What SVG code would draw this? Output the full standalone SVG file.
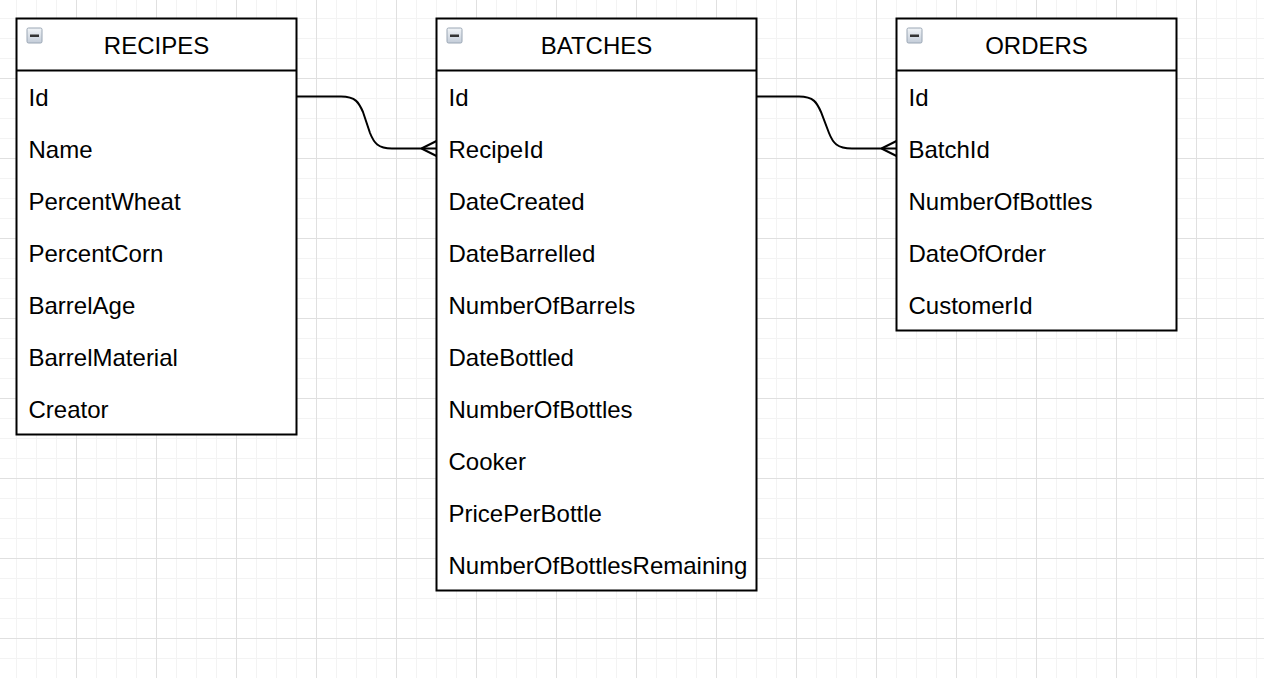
<svg xmlns="http://www.w3.org/2000/svg" width="1264" height="678" viewBox="0 0 1264 678">
  <defs>
    <pattern id="grid" x="0" y="0" width="80" height="80" patternUnits="userSpaceOnUse">
      <path d="M16.5 0V80M36.5 0V80M56.5 0V80M0 18.5H80M0 38.5H80M0 58.5H80" stroke="#f3f3f3" stroke-width="1" fill="none"/>
      <path d="M76.5 0V80M0 78.5H80" stroke="#e0e0e0" stroke-width="1" fill="none"/>
    </pattern>
    <linearGradient id="iconGrad" x1="0" y1="0" x2="0" y2="1">
      <stop offset="0" stop-color="#f2f5f8"/>
      <stop offset="1" stop-color="#c3ccd8"/>
    </linearGradient>
    <g id="minus">
      <rect x="0.5" y="0.5" width="15" height="15" rx="1.5" fill="url(#iconGrad)" stroke="#9aa6b4" stroke-width="1"/>
      <rect x="3.5" y="7" width="9" height="2.5" fill="#333"/>
    </g>
  </defs>
  <style>
    .box { fill: #ffffff; stroke: #000000; stroke-width: 2; }
    .sep { stroke: #000000; stroke-width: 2; }
    .title { font-family: "Liberation Sans", Arial, Helvetica, sans-serif; font-size: 24px; fill: #000; text-anchor: middle; }
    .row { font-family: "Liberation Sans", Arial, Helvetica, sans-serif; font-size: 24px; fill: #000; }
    .edge { fill: none; stroke: #000000; stroke-width: 2; }
  </style>
  <rect x="0" y="0" width="1264" height="678" fill="#ffffff"/>
  <rect x="0" y="0" width="1264" height="678" fill="url(#grid)"/>

  <g id="connectors">
    <path class="edge" d="M296.5 96.5H341C356 96.5 359 103 363 112L370 133C374 143 378 148.5 392 148.5H436.5"/>
    <path class="edge" d="M421.5 148.5L436.5 141M421.5 148.5L436.5 156"/>
    <path class="edge" d="M756.5 96.5H799C814 96.5 817 103 821 112L829 133C833 143 837 148.5 852 148.5H896.5"/>
    <path class="edge" d="M881.5 148.5L896.5 141M881.5 148.5L896.5 156"/>
  </g>

  <g id="recipes">
    <rect class="box" x="16.5" y="18.5" width="280" height="416"/>
    <line class="sep" x1="16.5" y1="70.5" x2="296.5" y2="70.5"/>
    <use href="#minus" x="26.5" y="27.5"/>
    <text class="title" x="156.5" y="54">RECIPES</text>
    <text class="row" x="28.5" y="106">Id</text>
    <text class="row" x="28.5" y="158">Name</text>
    <text class="row" x="28.5" y="210">PercentWheat</text>
    <text class="row" x="28.5" y="262">PercentCorn</text>
    <text class="row" x="28.5" y="314">BarrelAge</text>
    <text class="row" x="28.5" y="366">BarrelMaterial</text>
    <text class="row" x="28.5" y="418">Creator</text>
  </g>

  <g id="batches">
    <rect class="box" x="436.5" y="18.5" width="320" height="572"/>
    <line class="sep" x1="436.5" y1="70.5" x2="756.5" y2="70.5"/>
    <use href="#minus" x="446.5" y="27.5"/>
    <text class="title" x="596.5" y="54">BATCHES</text>
    <text class="row" x="448.5" y="106">Id</text>
    <text class="row" x="448.5" y="158">RecipeId</text>
    <text class="row" x="448.5" y="210">DateCreated</text>
    <text class="row" x="448.5" y="262">DateBarrelled</text>
    <text class="row" x="448.5" y="314">NumberOfBarrels</text>
    <text class="row" x="448.5" y="366">DateBottled</text>
    <text class="row" x="448.5" y="418">NumberOfBottles</text>
    <text class="row" x="448.5" y="470">Cooker</text>
    <text class="row" x="448.5" y="522">PricePerBottle</text>
    <text class="row" x="448.5" y="574">NumberOfBottlesRemaining</text>
  </g>

  <g id="orders">
    <rect class="box" x="896.5" y="18.5" width="280" height="312"/>
    <line class="sep" x1="896.5" y1="70.5" x2="1176.5" y2="70.5"/>
    <use href="#minus" x="906.5" y="27.5"/>
    <text class="title" x="1036.5" y="54">ORDERS</text>
    <text class="row" x="908.5" y="106">Id</text>
    <text class="row" x="908.5" y="158">BatchId</text>
    <text class="row" x="908.5" y="210">NumberOfBottles</text>
    <text class="row" x="908.5" y="262">DateOfOrder</text>
    <text class="row" x="908.5" y="314">CustomerId</text>
  </g>
</svg>
